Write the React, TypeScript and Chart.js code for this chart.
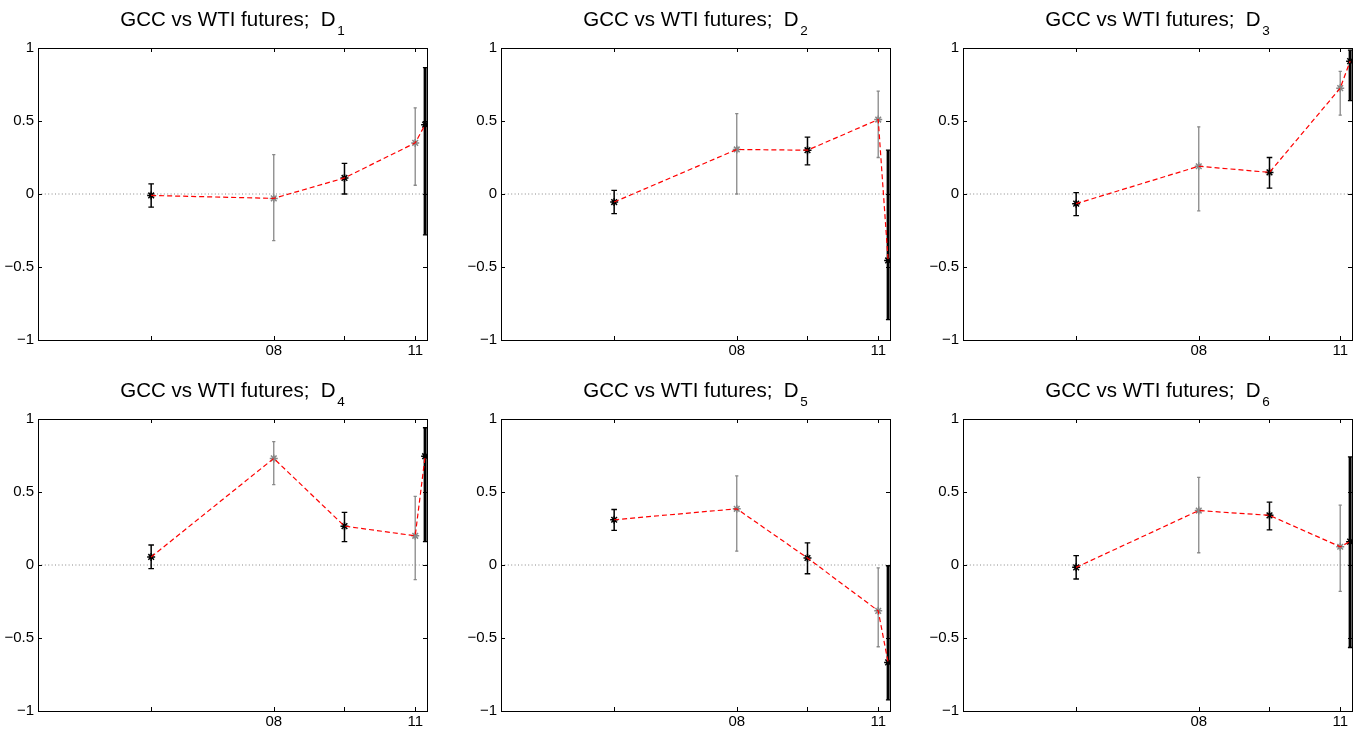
import React, { useEffect, useRef } from 'react';
import { Chart, registerables } from 'chart.js';

Chart.register(...registerables);

// ---------- data ----------
const xMin = 2003.0;
const xMax = 2011.25;
const xValues = [2005.4, 2008.0, 2009.5, 2011.0, 2011.21];
const xTickValues = [2005.4, 2008.0, 2009.5, 2011.0];
const xTickLabels = ['', '08', '', '11'];
const yTickValues = [-1, -0.5, 0, 0.5, 1];
const titleMain = 'GCC vs WTI futures;  D';
const titleSubs = ['1', '2', '3', '4', '5', '6'];

const d1Mean = [-0.01, -0.03, 0.11, 0.35, 0.475];
const d1Low = [-0.09, -0.32, 0.0, 0.06, -0.28];
const d1High = [0.07, 0.27, 0.21, 0.59, 0.865];

const d2Mean = [-0.055, 0.305, 0.3, 0.51, -0.455];
const d2Low = [-0.135, 0.0, 0.2, 0.25, -0.86];
const d2High = [0.025, 0.55, 0.39, 0.705, 0.3];

const d3Mean = [-0.066, 0.19, 0.148, 0.725, 0.91];
const d3Low = [-0.148, -0.115, 0.04, 0.54, 0.64];
const d3High = [0.01, 0.46, 0.25, 0.84, 0.985];

const d4Mean = [0.055, 0.73, 0.266, 0.2, 0.745];
const d4Low = [-0.025, 0.55, 0.16, -0.1, 0.16];
const d4High = [0.137, 0.845, 0.36, 0.47, 0.94];

const d5Mean = [0.31, 0.385, 0.048, -0.314, -0.667];
const d5Low = [0.237, 0.095, -0.06, -0.56, -0.924];
const d5High = [0.38, 0.61, 0.152, -0.02, -0.005];

const d6Mean = [-0.016, 0.373, 0.34, 0.125, 0.16];
const d6Low = [-0.096, 0.084, 0.24, -0.18, -0.565];
const d6High = [0.064, 0.6, 0.43, 0.41, 0.74];

const panels = [
  { sub: titleSubs[0], mean: d1Mean, low: d1Low, high: d1High },
  { sub: titleSubs[1], mean: d2Mean, low: d2Low, high: d2High },
  { sub: titleSubs[2], mean: d3Mean, low: d3Low, high: d3High },
  { sub: titleSubs[3], mean: d4Mean, low: d4Low, high: d4High },
  { sub: titleSubs[4], mean: d5Mean, low: d5Low, high: d5High },
  { sub: titleSubs[5], mean: d6Mean, low: d6Low, high: d6High },
];

// ---------- layout / style ----------
const colLefts = [38, 501, 963];
const rowTops = [48, 419];
const plotW = 389;
const plotH = 292;
const PAD_L = 38;
const PAD_T = 48;
const PAD_R = 12;
const PAD_B = 22;
const FONT = '"Liberation Sans", Arial, Helvetica, sans-serif';
const GRAY = '#888888';
const pointColors = ['#000000', GRAY, '#000000', GRAY, '#000000'];

const errorBarPlugin = {
  id: 'errorBars',
  beforeDatasetDraw(chart: any, args: any, opts: any) {
    if (args.index !== 1) return;
    const p = opts.panel;
    const { ctx } = chart;
    const xs = chart.scales.x;
    const ys = chart.scales.y;
    ctx.save();
    ctx.lineCap = 'butt';
    xValues.forEach((xv, i) => {
      const px = xs.getPixelForValue(xv);
      const top = ys.getPixelForValue(p.high[i]);
      const bot = ys.getPixelForValue(p.low[i]);
      let color = '#000000';
      let lw = 1.5;
      let cap = 2.8;
      if (i === 1 || i === 3) {
        color = GRAY;
        lw = 1.3;
        cap = 1.6;
      } else if (i === 4) {
        lw = 3;
        cap = 2.2;
      }
      ctx.strokeStyle = color;
      ctx.lineWidth = lw;
      ctx.beginPath();
      ctx.moveTo(px, top);
      ctx.lineTo(px, bot);
      ctx.stroke();
      ctx.lineWidth = 1.3;
      ctx.beginPath();
      ctx.moveTo(px - cap, top);
      ctx.lineTo(px + cap, top);
      ctx.moveTo(px - cap, bot);
      ctx.lineTo(px + cap, bot);
      ctx.stroke();
    });
    ctx.restore();
  },
};

const framePlugin = {
  id: 'frame',
  afterDraw(chart: any, _args: any, opts: any) {
    const { ctx, chartArea } = chart;
    const { left, right, top, bottom } = chartArea;
    const xs = chart.scales.x;
    const ys = chart.scales.y;
    ctx.save();
    ctx.strokeStyle = '#000000';
    ctx.lineWidth = 1;
    ctx.strokeRect(left + 0.5, top + 0.5, right - left, bottom - top);
    const tl = 4;
    ctx.beginPath();
    yTickValues.forEach((v) => {
      const py = Math.round(ys.getPixelForValue(v)) + 0.5;
      ctx.moveTo(left, py);
      ctx.lineTo(left + tl, py);
      ctx.moveTo(right, py);
      ctx.lineTo(right - tl, py);
    });
    xTickValues.forEach((v) => {
      const px = Math.round(xs.getPixelForValue(v)) + 0.5;
      ctx.moveTo(px, bottom);
      ctx.lineTo(px, bottom - tl);
      ctx.moveTo(px, top);
      ctx.lineTo(px, top + tl);
    });
    ctx.stroke();

    // title with subscript
    const mainFont = `20.5px ${FONT}`;
    const subFont = `13.5px ${FONT}`;
    ctx.fillStyle = '#000000';
    ctx.textBaseline = 'alphabetic';
    ctx.textAlign = 'left';
    ctx.font = mainFont;
    const wMain = ctx.measureText(titleMain).width;
    ctx.font = subFont;
    const wSub = ctx.measureText(opts.sub).width;
    const total = wMain + 1.5 + wSub;
    const cx = (left + right) / 2;
    const x0 = cx - total / 2;
    const base = top - 21.8;
    ctx.font = mainFont;
    ctx.fillText(titleMain, x0, base);
    ctx.font = subFont;
    ctx.fillText(opts.sub, x0 + wMain + 1.5, base + 8.3);
    ctx.restore();
  },
};

function Panel({ idx }: { idx: number }) {
  const ref = useRef<HTMLCanvasElement>(null);
  const p = panels[idx];
  const row = Math.floor(idx / 3);
  const col = idx % 3;
  const W = PAD_L + plotW + PAD_R;
  const H = PAD_T + plotH + PAD_B;
  const left = colLefts[col] - PAD_L;
  const top = rowTops[row] - PAD_T;

  useEffect(() => {
    const canvas = ref.current;
    if (!canvas) return;
    const pts = xValues.map((x, i) => ({ x, y: p.mean[i] }));
    const chart = new Chart(canvas, {
      type: 'line',
      data: {
        datasets: [
          {
            data: [
              { x: xMin, y: 0 },
              { x: xMax, y: 0 },
            ],
            borderColor: GRAY,
            borderWidth: 1,
            borderDash: [1, 2.4],
            pointRadius: 0,
            order: 2,
          },
          {
            data: pts,
            showLine: false,
            pointStyle: 'star',
            pointRadius: 4,
            pointBorderColor: pointColors,
            pointBackgroundColor: pointColors,
            pointBorderWidth: 1.5,
            order: 1,
          },
          {
            data: pts,
            borderColor: '#ff0000',
            borderWidth: 1.2,
            borderDash: [5, 3],
            pointRadius: 0,
            tension: 0,
            order: 0,
          },
        ],
      } as any,
      options: {
        animation: false,
        responsive: false,
        maintainAspectRatio: false,
        devicePixelRatio: 1,
        layout: { padding: { left: 0, top: PAD_T, right: PAD_R, bottom: 0 } },
        plugins: {
          legend: { display: false },
          tooltip: { enabled: false },
          title: { display: false },
          errorBars: { panel: p },
          frame: { sub: p.sub },
        } as any,
        scales: {
          x: {
            type: 'linear',
            min: xMin,
            max: xMax,
            grid: { display: false, drawTicks: false },
            border: { display: false },
            afterBuildTicks: (scale: any) => {
              scale.ticks = xTickValues.map((v) => ({ value: v }));
            },
            afterFit: (scale: any) => {
              scale.height = PAD_B;
            },
            ticks: {
              autoSkip: false,
              maxRotation: 0,
              minRotation: 0,
              padding: 2,
              color: '#000000',
              font: { size: 15, family: FONT },
              callback: (_v: any, i: number) => xTickLabels[i],
            },
          },
          y: {
            type: 'linear',
            min: -1,
            max: 1,
            grid: { display: false, drawTicks: false },
            border: { display: false },
            afterBuildTicks: (scale: any) => {
              scale.ticks = yTickValues.map((v) => ({ value: v }));
            },
            afterFit: (scale: any) => {
              scale.width = PAD_L;
            },
            ticks: {
              padding: 4,
              color: '#000000',
              font: { size: 15, family: FONT },
              callback: (v: any) => {
                const n = Number(v);
                return n < 0 ? '\u2212' + String(Math.abs(n)) : String(n);
              },
            },
          },
        },
      } as any,
      plugins: [errorBarPlugin, framePlugin],
    });
    return () => chart.destroy();
  }, [idx]);

  return (
    <canvas
      ref={ref}
      width={W}
      height={H}
      style={{ position: 'absolute', left, top, width: W, height: H }}
    />
  );
}

export default function App() {
  return (
    <div
      style={{
        position: 'fixed',
        left: 0,
        top: 0,
        width: 1366,
        height: 735,
        background: '#ffffff',
      }}
    >
      {panels.map((_, i) => (
        <Panel key={i} idx={i} />
      ))}
    </div>
  );
}
